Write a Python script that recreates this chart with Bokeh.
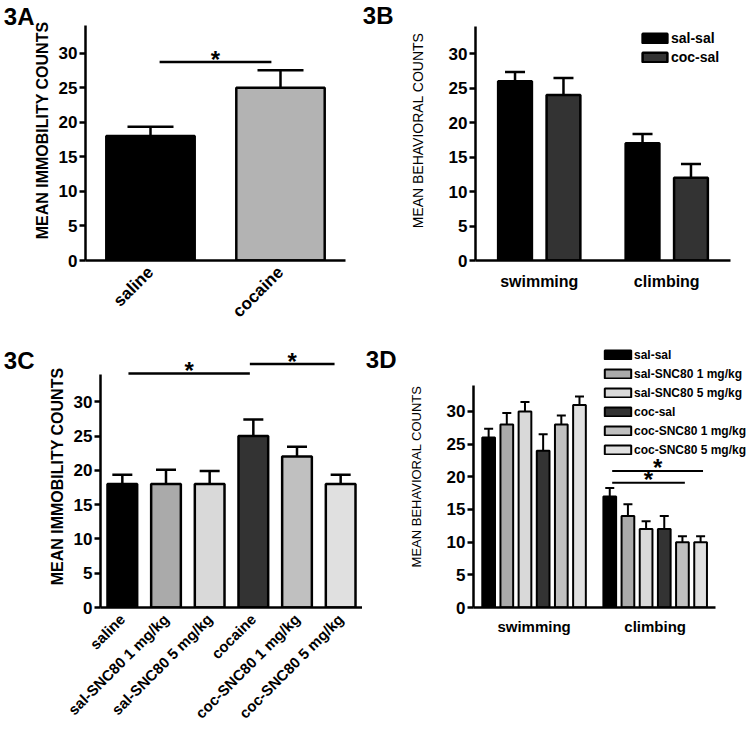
import math
from bokeh.plotting import figure
from bokeh.models import (Range1d, FactorRange, FixedTicker, Whisker, TeeHead,
                          ColumnDataSource, Legend, LegendItem, LinearAxis)
from bokeh.layouts import row, column
from bokeh.embed import file_html
from bokeh.resources import INLINE
from bokeh.core.properties import value

FONT = "Liberation Sans"

# ---------------- data ----------------
y_ticks = [0, 5, 10, 15, 20, 25, 30]

# Panel 3A
a_groups = ["saline", "cocaine"]
a_means = [18, 25]
a_sems = [1.35, 2.5]
a_colors = ["#000000", "#b3b3b3"]
a_sig_pair = ("saline", "cocaine")
a_sig_height = 28.7

# Panel 3B
b_categories = ["swimming", "climbing"]
b_series = ["sal-sal", "coc-sal"]
b_sal_sal = [26, 17]
b_sal_sal_sem = [1.35, 1.35]
b_coc_sal = [24, 12]
b_coc_sal_sem = [2.45, 2.0]
b_colors = ["#000000", "#333333"]

# Panel 3C
c_groups = ["saline", "sal-SNC80 1 mg/kg", "sal-SNC80 5 mg/kg",
            "cocaine", "coc-SNC80 1 mg/kg", "coc-SNC80 5 mg/kg"]
c_means = [18, 18, 18, 25, 22, 18]
c_sems = [1.35, 2.1, 1.9, 2.4, 1.45, 1.35]
c_colors = ["#000000", "#aaaaaa", "#d9d9d9", "#333333", "#c0c0c0", "#e0e0e0"]
c_sig_pairs = [("saline", "cocaine"), ("cocaine", "coc-SNC80 5 mg/kg")]
c_sig_heights = [34.1, 35.5]

# Panel 3D
d_categories = ["swimming", "climbing"]
d_series = ["sal-sal", "sal-SNC80 1 mg/kg", "sal-SNC80 5 mg/kg",
            "coc-sal", "coc-SNC80 1 mg/kg", "coc-SNC80 5 mg/kg"]
d_swimming = [26, 28, 30, 24, 28, 31]
d_swimming_sem = [1.35, 1.75, 1.45, 2.5, 1.4, 1.3]
d_climbing = [17, 14, 12, 12, 10, 10]
d_climbing_sem = [1.3, 1.8, 1.2, 2.0, 0.9, 0.9]
d_colors = ["#000000", "#aaaaaa", "#d9d9d9", "#333333", "#c0c0c0", "#e0e0e0"]
d_sig_group = "climbing"
d_sig_pairs = [("sal-sal", "coc-SNC80 5 mg/kg"), ("sal-sal", "coc-SNC80 1 mg/kg")]
d_sig_heights = [20.9, 19.1]

AXIS_TOP = 34


def make_fig(width, height, x_range, y_end, bl, br, bb):
    p = figure(width=width, height=height, x_range=x_range, y_range=Range1d(0, y_end),
               output_backend="svg", toolbar_location=None,
               min_border_left=bl, min_border_right=br, min_border_top=0,
               min_border_bottom=bb)
    p.xgrid.visible = False
    p.ygrid.visible = False
    p.outline_line_color = None
    return p


def style(p, ylabel, ylab_size, ylab_style, ylab_standoff, xlab_size, xlab_standoff, axis_w):
    ya = p.yaxis[0]
    ya.ticker = FixedTicker(ticks=y_ticks)
    ya.bounds = (0, AXIS_TOP)
    ya.axis_line_width = axis_w
    ya.axis_line_color = "black"
    ya.major_tick_line_width = axis_w
    ya.major_tick_line_color = "black"
    ya.major_tick_out = 6
    ya.major_tick_in = 0
    ya.minor_tick_line_color = None
    ya.major_label_text_font = FONT
    ya.major_label_text_font_style = "bold"
    ya.major_label_text_font_size = "17px"
    ya.major_label_text_color = "black"
    ya.major_label_standoff = 2
    ya.axis_label = ylabel
    ya.axis_label_text_font = FONT
    ya.axis_label_text_font_size = ylab_size
    ya.axis_label_text_font_style = ylab_style
    ya.axis_label_text_color = "black"
    ya.axis_label_standoff = ylab_standoff
    xa = p.xaxis[0]
    xa.axis_line_width = axis_w
    xa.axis_line_color = "black"
    xa.major_tick_line_color = None
    xa.minor_tick_line_color = None
    xa.major_label_text_font = FONT
    xa.major_label_text_font_style = "bold"
    xa.major_label_text_font_size = xlab_size
    xa.major_label_text_color = "black"
    xa.major_label_standoff = xlab_standoff


def panel_label(p, text, at, standoff):
    # the panel letter, written as the single tick label of an outer left axis
    ax = LinearAxis(ticker=FixedTicker(ticks=[at]), major_label_overrides={at: text},
                    axis_line_color=None, major_tick_line_color=None,
                    minor_tick_line_color=None, major_tick_out=0, major_tick_in=0,
                    major_label_standoff=standoff, major_label_text_font=FONT,
                    major_label_text_font_style="bold", major_label_text_font_size="24px",
                    major_label_text_color="black")
    p.add_layout(ax, "left")


def whiskers(p, xs, means, sems, head, lw):
    src = ColumnDataSource(dict(x=xs, lower=means, upper=[m + s for m, s in zip(means, sems)]))
    p.add_layout(Whisker(source=src, base="x", lower="lower", upper="upper",
                         line_width=lw, line_color="black",
                         upper_head=TeeHead(size=head, line_width=lw, line_color="black"),
                         lower_head=None))


def sig(p, x0, x1, h, lw):
    p.segment(x0=[x0], y0=[h], x1=[x1], y1=[h], line_width=lw, line_color="black")
    p.text(x=[(x0 + x1) / 2], y=[h], text=["*"], text_font=value(FONT),
           text_font_style="bold", text_font_size="24px", text_align="center",
           text_baseline="middle", y_offset=-3, text_color="black")


# ---------------- 3A ----------------
pA = make_fig(355, 345, FactorRange(*a_groups), 37.6, 80, 10, 78)
srcA = ColumnDataSource(dict(x=a_groups, top=a_means, color=a_colors))
whiskers(pA, a_groups, a_means, a_sems, 46, 2.5)
pA.vbar(x="x", top="top", width=0.68, source=srcA, fill_color="color",
        line_color="black", line_width=2.5)
style(pA, "MEAN IMMOBILITY COUNTS", "16px", "bold", 5, "17px", 3, 2.5)
pA.xaxis.major_label_orientation = math.pi / 4
sig(pA, a_groups.index(a_sig_pair[0]) + 0.5 + 0.07,
    a_groups.index(a_sig_pair[1]) + 0.5 - 0.07, a_sig_height, 2.5)
panel_label(pA, "3A", 36, -4)

# ---------------- 3B ----------------
pB = make_fig(399, 345, Range1d(0.5, 2.5), 37.7, 120, 24, 85)
b_vals = [b_sal_sal, b_coc_sal]
b_sems = [b_sal_sal_sem, b_coc_sal_sem]
b_items = []
for i, name in enumerate(b_series):
    xs = [g + 1 + (i - 0.5) * 0.38 for g in range(len(b_categories))]
    whiskers(pB, xs, b_vals[i], b_sems[i], 20, 2.5)
    r = pB.vbar(x=xs, top=b_vals[i], width=0.265, fill_color=b_colors[i],
                line_color="black", line_width=2.5)
    b_items.append(LegendItem(label=name, renderers=[r]))
style(pB, "MEAN BEHAVIORAL COUNTS", "14px", "normal", 20, "16px", 6, 2.5)
pB.xaxis.ticker = FixedTicker(ticks=[1, 2])
pB.xaxis.major_label_overrides = {g + 1: c for g, c in enumerate(b_categories)}
pB.add_layout(Legend(items=b_items, location=(164, 195), glyph_width=31, glyph_height=12,
                     label_height=16, label_width=70, spacing=3, padding=0, margin=0,
                     label_standoff=1, border_line_color=None, background_fill_alpha=0,
                     label_text_font=FONT, label_text_font_style="bold",
                     label_text_font_size="14px", label_text_color="black"))
panel_label(pB, "3B", 36, 13)

# ---------------- 3C ----------------
pC = make_fig(362, 396, FactorRange(*c_groups), 38.2, 100, 0, 126)
srcC = ColumnDataSource(dict(x=c_groups, top=c_means, color=c_colors))
whiskers(pC, c_groups, c_means, c_sems, 20, 2.5)
pC.vbar(x="x", top="top", width=0.68, source=srcC, fill_color="color",
        line_color="black", line_width=2.5)
style(pC, "MEAN IMMOBILITY COUNTS", "16px", "bold", 5, "15px", 3, 2.5)
pC.xaxis.major_label_orientation = math.pi / 4
c_trims = [(0.14, -0.08), (-0.08, -0.14)]
for (ga, gb), h, (ta, tb) in zip(c_sig_pairs, c_sig_heights, c_trims):
    sig(pC, c_groups.index(ga) + 0.5 + ta, c_groups.index(gb) + 0.5 + tb, h, 2.5)
panel_label(pC, "3C", 36, 11)

# ---------------- 3D ----------------
pD = make_fig(392, 396, Range1d(0.5, 2.82), 40.1, 110, 0, 134)
d_vals = [[s, c] for s, c in zip(d_swimming, d_climbing)]
d_sems = [[s, c] for s, c in zip(d_swimming_sem, d_climbing_sem)]
d_off = [(i - 2.5) * 0.15 for i in range(len(d_series))]
d_items = []
for i, name in enumerate(d_series):
    xs = [g + 1 + d_off[i] for g in range(len(d_categories))]
    whiskers(pD, xs, d_vals[i], d_sems[i], 9, 2)
    r = pD.vbar(x=xs, top=d_vals[i], width=0.105, fill_color=d_colors[i],
                line_color="black", line_width=2)
    d_items.append(LegendItem(label=name, renderers=[r]))
style(pD, "MEAN BEHAVIORAL COUNTS", "13px", "normal", 20, "15px", 4, 2.5)
pD.xaxis.ticker = FixedTicker(ticks=[1, 2])
pD.xaxis.bounds = (0.5, 2.5)
pD.xaxis.major_label_overrides = {g + 1: c for g, c in enumerate(d_categories)}
gpos = d_categories.index(d_sig_group) + 1
for (sa, sb), h in zip(d_sig_pairs, d_sig_heights):
    sig(pD, gpos + d_off[d_series.index(sa)] + 0.02,
        gpos + d_off[d_series.index(sb)] + 0.02, h, 2)
pD.add_layout(Legend(items=d_items, location=(128, 150), glyph_width=33, glyph_height=11,
                     label_height=15, label_width=118, spacing=4, padding=0, margin=0,
                     label_standoff=0, border_line_color=None, background_fill_alpha=0,
                     label_text_font=FONT, label_text_font_style="bold",
                     label_text_font_size="12px", label_text_color="black"))
panel_label(pD, "3D", 38, 9)

layout = column(row(pA, pB), row(pC, pD))
open("out.html", "w").write(file_html(layout, INLINE))
